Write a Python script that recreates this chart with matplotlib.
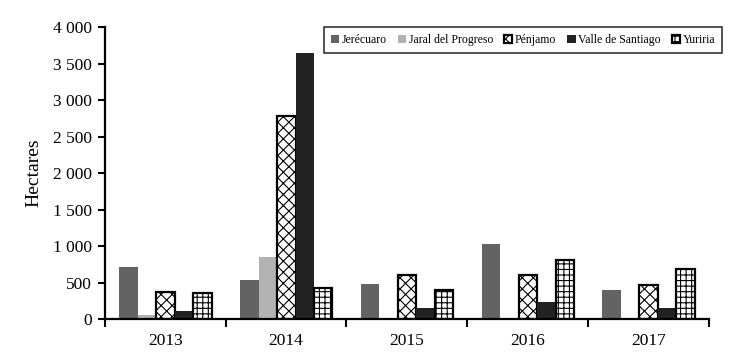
import numpy as np
import matplotlib
matplotlib.use('Agg')
import matplotlib.pyplot as plt
from matplotlib.ticker import FuncFormatter

years = ['2013', '2014', '2015', '2016', '2017']
jerecuaro = [715, 530, 480, 1025, 400]
jaral = [50, 850, 0, 0, 0]
penjamo = [370, 2790, 610, 610, 460]
valle = [110, 3650, 150, 230, 150]
yuriria = [360, 430, 400, 815, 680]

series = [
    ('Jerécuaro', jerecuaro, '#636363', None),
    ('Jaral del Progreso', jaral, '#b2b2b2', None),
    ('Pénjamo', penjamo, 'white', 'xxx'),
    ('Valle de Santiago', valle, '#222222', None),
    ('Yuriria', yuriria, 'white', '+++'),
]

plt.rcParams['font.family'] = ['Liberation Serif', 'DejaVu Serif']
plt.rcParams['hatch.linewidth'] = 0.8

fig = plt.figure(figsize=(7.54, 3.63), dpi=100)
ax = fig.add_axes([0.139, 0.1212, 0.801, 0.8036])

x = np.arange(len(years))
w = 0.153
for j, (name, vals, col, hatch) in enumerate(series):
    if hatch:
        ax.bar(x + 0.12 + j * w, vals, w, align='edge', color=col, hatch=hatch,
               edgecolor='black', linewidth=1.6, label=name)
    else:
        ax.bar(x + 0.12 + j * w, vals, w, align='edge', color=col,
               linewidth=0, label=name)

ax.set_xlim(0, 5)
ax.set_ylim(0, 4000)
ax.set_yticks(range(0, 4001, 500))
ax.yaxis.set_major_formatter(FuncFormatter(lambda v, p: f'{int(v):,}'.replace(',', ' ')))
ax.set_xticks(range(0, 6))
ax.set_xticklabels([])
ax.set_xticks(x + 0.5, minor=True)
ax.set_xticklabels(years, minor=True)
ax.tick_params(axis='x', which='minor', length=0, pad=10, labelsize=12.5)
ax.tick_params(axis='x', which='major', length=6, width=1.5, direction='out')
ax.tick_params(axis='y', length=5, width=1.5, labelsize=12.5, pad=4)
for s in ['top', 'right']:
    ax.spines[s].set_visible(False)
for s in ['left', 'bottom']:
    ax.spines[s].set_linewidth(1.6)
ax.set_ylabel('Hectares', fontsize=14, labelpad=8)

leg = fig.legend(loc='center', bbox_to_anchor=(0.6936, 0.890), ncol=5,
                 fontsize=8.5, frameon=True, fancybox=False, edgecolor='black',
                 handlelength=0.7, handleheight=0.7, handletextpad=0.2,
                 columnspacing=0.95, borderpad=0.6)
leg.get_frame().set_linewidth(1.2)

fig.savefig('out.png', dpi=100)
